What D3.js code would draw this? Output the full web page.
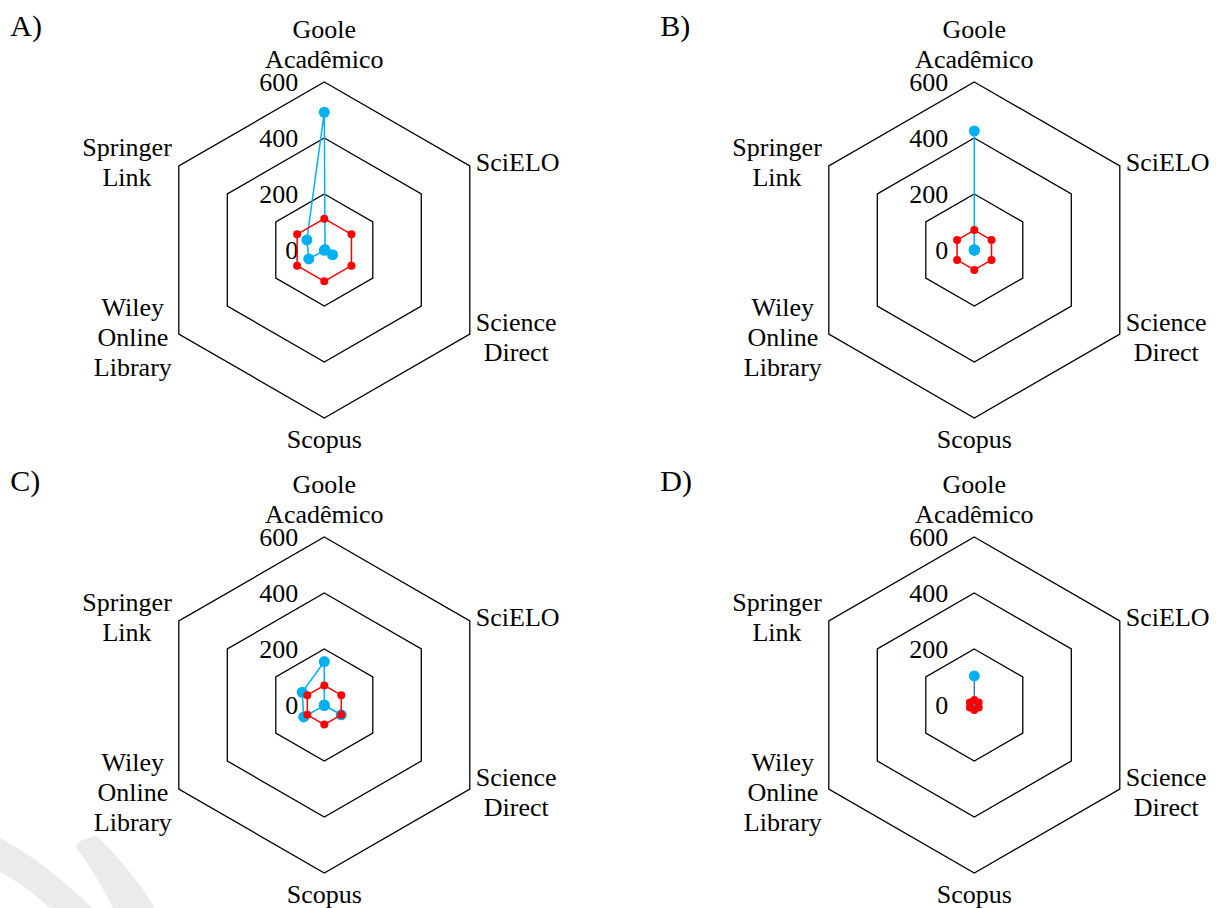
<!DOCTYPE html>
<html>
<head>
<meta charset="utf-8">
<script src="https://cdn.jsdelivr.net/npm/d3@7"></script>
<style>
  body { margin: 0; background: #fff; }
  text { font-family: "Liberation Serif", "Times New Roman", serif; fill: #000; }
</style>
</head>
<body>
<script>
// fixed page size, same as the reference picture
var width = 1219,
    height = 908;

var tau = 2 * Math.PI;

// axis names, one entry per line of the label
var categories = [
  ["Goole", "Acadêmico"],
  ["SciELO"],
  ["Science", "Direct"],
  ["Scopus"],
  ["Wiley", "Online", "Library"],
  ["Springer", "Link"]
];

// radial ticks
var tickValues = [0, 200, 400, 600];

// panel letters
var panelLabels = ["A)", "B)", "C)", "D)"];

// blue series (same order as categories)
var valuesA = [492, 3, 34, 1, 64, 72];
var valuesB = [425, 0, 0, 0, 0, 0];
var valuesC = [155, 0, 70, 2, 85, 91];
var valuesD = [104, 0, 0, 0, 0, 0];

// red series: one constant level per panel
var averages = [112, 71, 70, 18];

var series = [valuesA, valuesB, valuesC, valuesD];

// where each radar sits on the page
var centers = [[324.3, 250], [974.3, 250], [324.3, 705], [974.3, 705]];
var lineColors = ["#00b0f0", "#00b0f0", "#00b0f0", "#4472c4"];

// radius scale: 600 -> 168px
var r = d3.scaleLinear().domain([0, 600]).range([0, 168]);

var n = categories.length;
function ang(i) { return i * tau / n; }

// closed polygon through the points
var radar = d3.lineRadial()
  .angle(function(d, i) { return ang(i); })
  .radius(function(d) { return r(d); })
  .curve(d3.curveLinearClosed);

var svg = d3.select('body')
  .append('svg')
  .attr('width', width)
  .attr('height', height);

// faint watermark in the lower left corner
var mark = svg.append('g').attr('fill', '#ebebeb');
mark.append('path').attr('d', 'M0,838 Q45,862 92,908 L50,908 Q25,885 0,872 Z');
mark.append('path').attr('d', 'M97,836 Q130,868 155,908 L113,908 Q95,872 75,846 Q82,838 97,836 Z');

series.forEach(function(values, p) {
  var c = centers[p];
  var g = svg.append('g')
    .attr('transform', 'translate(' + c[0] + ',' + c[1] + ')');

  // hexagon grid (no spokes)
  g.selectAll('path.grid')
    .data(tickValues.filter(function(v) { return v > 0; }))
    .enter().append('path')
    .attr('class', 'grid')
    .attr('d', function(v) { return radar(categories.map(function() { return v; })); })
    .attr('fill', 'none')
    .attr('stroke', '#000')
    .attr('stroke-width', 1.3);

  // tick labels up the vertical axis
  g.selectAll('text.tick')
    .data(tickValues)
    .enter().append('text')
    .attr('class', 'tick')
    .attr('x', -26)
    .attr('y', function(v) { return -r(v); })
    .attr('dy', '0.35em')
    .attr('text-anchor', 'end')
    .style('font-size', '26px')
    .text(function(v) { return v; });

  // category labels around the outer hexagon
  var outer = r(tickValues[tickValues.length - 1]);
  categories.forEach(function(lines, i) {
    var vx = outer * Math.sin(ang(i)),
        vy = -outer * Math.cos(ang(i));
    var t = g.append('text')
      .attr('text-anchor', 'middle')
      .style('font-size', '26px');
    var spans = t.selectAll('tspan')
      .data(lines)
      .enter().append('tspan')
      .text(function(d) { return d; });
    var k = lines.length;
    var maxW = 0;
    spans.each(function() { maxW = Math.max(maxW, this.getComputedTextLength()); });
    var x, y0;
    if (i === 0) {
      x = 0; y0 = vy - 14.4 - (k - 1) * 30;
    } else if (i === n / 2) {
      x = 0; y0 = vy + 30.4;
    } else {
      var upper = vy < 0;
      y0 = vy + (upper ? 4.5 : 12) - (k - 1) * 15;
      x = vx > 0 ? vx + 6 + maxW / 2 : vx - 7 - maxW / 2;
    }
    spans.attr('x', x).attr('y', function(d, j) { return y0 + j * 30; });
  });

  // blue series
  g.append('path')
    .attr('d', radar(values))
    .attr('fill', 'none')
    .attr('stroke', lineColors[p])
    .attr('stroke-width', 1.5);
  g.selectAll('circle.blue')
    .data(values)
    .enter().append('circle')
    .attr('class', 'blue')
    .attr('cx', function(d, i) { return r(d) * Math.sin(ang(i)); })
    .attr('cy', function(d, i) { return -r(d) * Math.cos(ang(i)); })
    .attr('r', 5.5)
    .attr('fill', '#00b0f0');

  // red series (drawn on top)
  var avg = categories.map(function() { return averages[p]; });
  g.append('path')
    .attr('d', radar(avg))
    .attr('fill', 'none')
    .attr('stroke', '#ff0000')
    .attr('stroke-width', 1.5);
  g.selectAll('circle.red')
    .data(avg)
    .enter().append('circle')
    .attr('class', 'red')
    .attr('cx', function(d, i) { return r(d) * Math.sin(ang(i)); })
    .attr('cy', function(d, i) { return -r(d) * Math.cos(ang(i)); })
    .attr('r', 4)
    .attr('fill', '#ff0000');

  // panel letter
  svg.append('text')
    .attr('x', c[0] - 314)
    .attr('y', c[1] - 214)
    .style('font-size', '30px')
    .text(panelLabels[p]);
});
</script>
</body>
</html>
